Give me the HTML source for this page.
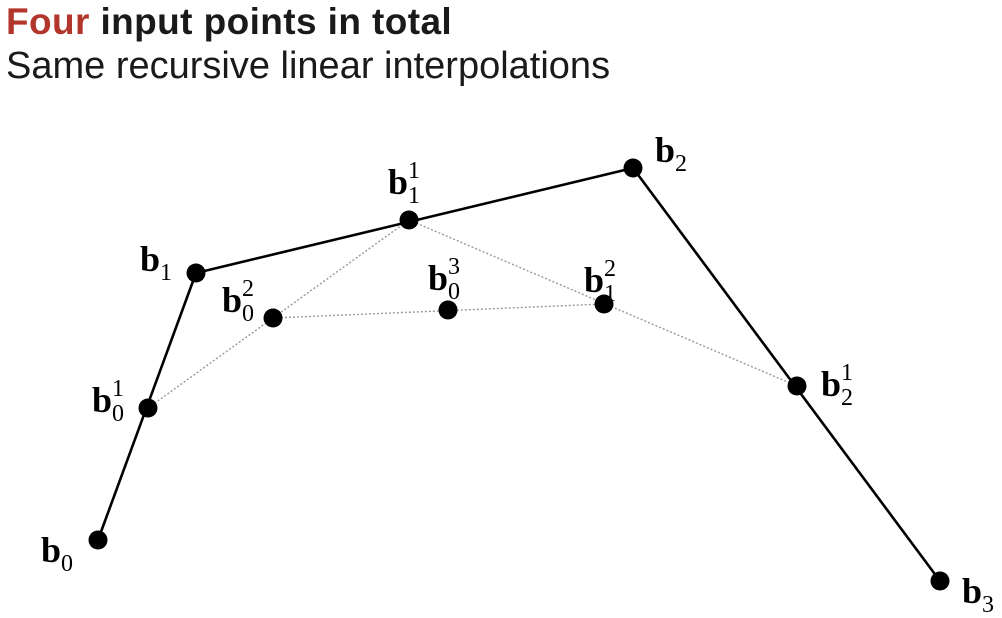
<!DOCTYPE html>
<html><head><meta charset="utf-8"><style>
html,body{margin:0;padding:0;background:#fff;width:1002px;height:618px;overflow:hidden}
.t{position:absolute;left:6px;font-family:"Liberation Sans",sans-serif;font-size:38px;line-height:42px;color:#1a1a1a;white-space:nowrap}
</style></head><body>
<div class="t" style="top:1px;font-weight:bold;font-size:37px;letter-spacing:0.4px"><span style="color:#b2362b">Four</span> input points in total</div>
<div class="t" style="top:45px;letter-spacing:0px">Same recursive linear interpolations</div>
<svg id="chart" width="1002" height="618" style="position:absolute;left:0;top:0"></svg>
<script>
// measured points per recursion level
const level0X = [98, 196, 633, 940];
const level0Y = [540, 273, 168, 581];
const level1X = [148, 409, 797];
const level1Y = [408, 220, 386];
const level2X = [273, 604];
const level2Y = [318, 304];
const level3X = [448];
const level3Y = [310];
const NS = "http://www.w3.org/2000/svg";
const svg = document.getElementById('chart');
const levels = [[level0X,level0Y],[level1X,level1Y],[level2X,level2Y],[level3X,level3Y]].map(([xs,ys])=>xs.map((x,i)=>[x,ys[i]]));
function mk(tag, attrs){const e=document.createElementNS(NS,tag);for(const k in attrs)e.setAttribute(k,attrs[k]);svg.appendChild(e);return e;}
levels.forEach((lv,r)=>{
  for(let i=0;i<lv.length-1;i++){
    const l=mk('line',{x1:lv[i][0],y1:lv[i][1],x2:lv[i+1][0],y2:lv[i+1][1],stroke:r===0?'#000':'#999','stroke-width':r===0?2.6:1.4,'stroke-dasharray':r===0?'none':'2 2'});
    
    
  }
});
const labelOff = {
  '0_0':[-57,22],'0_1':[-56,-2],'0_2':[22,-6],'0_3':[22,22],
  '1_0':[-56,4],'1_1':[-21,-26],'1_2':[24,10],
  '2_0':[-51,-6],'2_1':[-20,-12],
  '3_0':[-20,-20]
};
levels.forEach((lv,r)=>{
  lv.forEach((p,i)=>{
    const c=mk('circle',{cx:p[0],cy:p[1],r:9.5,fill:'#000'});
    
    
    const off=labelOff[r+'_'+i];
    const bx=p[0]+off[0], by=p[1]+off[1];
    const g=mk('text',{x:bx,y:by,'font-family':'"Liberation Serif",serif','font-weight':'bold','font-size':36,fill:'#000'});
    g.textContent='b';
    
    
    const s=mk('text',{x:bx+20,y:by+9,'font-family':'"Liberation Serif",serif','font-size':24,fill:'#000'});
    s.textContent=String(i);
    
    
    if(r>0){
      const u=mk('text',{x:bx+20,y:by-16,'font-family':'"Liberation Serif",serif','font-size':24,fill:'#000'});
      u.textContent=String(r);
      
      
    }
  });
});
</script>
</body></html>
